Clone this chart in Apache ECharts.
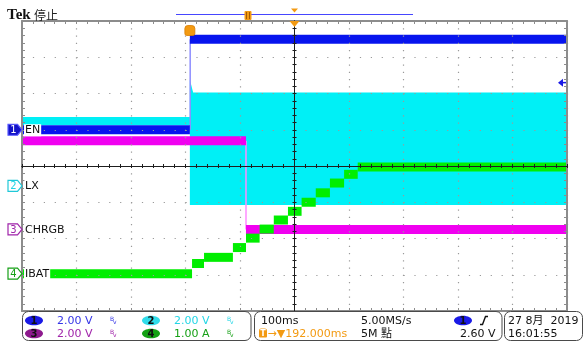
<!DOCTYPE html>
<html>
<head>
<meta charset="utf-8">
<script src="https://cdn.jsdelivr.net/npm/echarts@6/dist/echarts.min.js"></script>
<style>
  html, body { margin: 0; padding: 0; background: #fff; }
  #scope { width: 584px; height: 342px; }
</style>
</head>
<body>
<div id="scope"></div>
<script>
// ---- Acquisition settings -------------------------------------------------
// 100 ms/div over 10 divisions, trigger at t = 0, horizontal position 192 ms
const timeMin = -308;
const timeMax = 692;
const horizPosition = 192;      // ms
const triggerLevel = 2.60;      // V on CH1

// Per-channel vertical scale (units/div) and ground offset (divisions)
const chScale  = [2.0, 2.0, 2.0, 1.0];
const chOffset = [1.0, -0.55, -1.75, -2.97];
const chNames  = ['EN', 'LX', 'CHRGB', 'IBAT'];

// ---- Waveforms --------------------------------------------------------------
// CH1 EN: segment boundaries (ms) and level in each segment (V)
const enEdges  = [-308, 0, 692];
const enLevels = [0.0, 5.0];

// CH3 CHRGB: open-drain status pin released when charging regulates
const chrgbEdges  = [-308, 103, 692];
const chrgbLevels = [4.9, 0.0];

// CH4 IBAT: soft-start current staircase (A)
const ibatEdges  = [-308, 4, 26, 79, 103, 128, 154, 180, 205, 231, 257, 283, 308, 692];
const ibatLevels = [0.0, 0.28, 0.45, 0.72, 0.98, 1.23, 1.48, 1.72, 1.97, 2.23, 2.50, 2.74, 2.94];

// CH2 LX: switching node envelope (V), lower and upper bound over time
const lxTime = [-308, 0, 0, 1.5, 6, 692];
const lxHigh = [3.80, 3.80, 5.85, 5.70, 5.15, 5.15];
const lxLow  = [3.35, 3.35, -1.05, -1.05, -1.05, -1.05];

// ---- Drawing ---------------------------------------------------------------
const traceColor = ['#0714ee', '#00f0f6', '#f000f0', '#00ee00'];
const edgeColor  = ['#8e8eff', '#80f6ff', '#ff8cff', '#80ff80'];
const textColor  = ['#3434e6', '#22d6e6', '#a024aa', '#16a016'];
const badgeColor = ['#1a1ae6', '#30dcea', '#8e1a8e', '#14a014'];
const ORANGE = '#f39a12';
const FONT = 'DejaVu Sans';

const chart = echarts.init(document.getElementById('scope'), null, { renderer: 'canvas' });

const toDiv = (ch, v) => chOffset[ch] + v / chScale[ch];

function segmentData(ch, edges, levels) {
  return levels.map((v, i) => [edges[i], edges[i + 1], toDiv(ch, v)]);
}

// Noisy trace drawn as a solid band per constant segment
function bandSeries(name, ch, edges, levels, thick, z) {
  return {
    type: 'custom', name, xAxisIndex: 4, yAxisIndex: 0, z,
    silent: true, clip: true,
    data: segmentData(ch, edges, levels),
    encode: { x: [0, 1], y: 2 },
    renderItem: (params, api) => {
      const a = api.coord([api.value(0), api.value(2)]);
      const b = api.coord([api.value(1), api.value(2)]);
      return {
        type: 'rect',
        shape: { x: a[0], y: a[1] - thick / 2, width: b[0] - a[0], height: thick },
        style: { fill: traceColor[ch] }
      };
    }
  };
}

// Thin vertical transition between two levels
function edgeSeries(ch, t, v0, v1, z) {
  return {
    type: 'line', xAxisIndex: 4, yAxisIndex: 0, z, silent: true,
    symbol: 'none', animation: false,
    lineStyle: { color: edgeColor[ch], width: 1.5 },
    data: [[t, toDiv(ch, v0)], [t, toDiv(ch, v1)]]
  };
}

// Switching-node envelope filled between lower and upper bound
const lxSeries = {
  type: 'custom', name: 'LX', xAxisIndex: 4, yAxisIndex: 0, z: 2,
  silent: true, clip: true,
  data: lxTime.map((t, i) => [t, toDiv(1, lxLow[i]), toDiv(1, lxHigh[i])]),
  encode: { x: 0, y: [1, 2] },
  renderItem: (params, api) => {
    if (params.dataIndex !== 0) return;
    const upper = lxTime.map((t, i) => api.coord([t, toDiv(1, lxHigh[i])]));
    const lower = lxTime.map((t, i) => api.coord([t, toDiv(1, lxLow[i])])).reverse();
    return {
      type: 'polygon',
      shape: { points: upper.concat(lower) },
      style: { fill: traceColor[1] }
    };
  }
};

// Graticule axes: border with inner ticks, dotted divisions, centre crosshair
const GRAT = '#8c8c8c';
function gratAxis(extra) {
  return Object.assign({
    type: 'value', gridIndex: 0, z: 10, silent: true,
    axisLabel: { show: false },
    splitLine: { show: false },
    axisLine: { show: true, onZero: false, lineStyle: { color: GRAT, width: 2 } },
    axisTick: { show: true, inside: true, length: 3, lineStyle: { color: GRAT, width: 1 } },
    minorTick: { show: true, splitNumber: 5, length: 3, lineStyle: { color: GRAT, width: 1 } }
  }, extra);
}
function crossAxis(extra, inside) {
  return Object.assign({
    type: 'value', gridIndex: 0, z: 11, silent: true,
    axisLabel: { show: false },
    splitLine: { show: false },
    axisLine: { show: true, onZero: true, onZeroAxisIndex: 0, lineStyle: { color: '#1e1e1e', width: 1 } },
    axisTick: { show: true, inside, length: 2, lineStyle: { color: '#1e1e1e', width: 1 } },
    minorTick: { show: true, splitNumber: 5, length: 2, lineStyle: { color: '#1e1e1e', width: 1 } }
  }, extra);
}

const xDiv = { min: -5, max: 5, interval: 1 };
const yDiv = { min: -4, max: 4, interval: 1 };

const option = {
  animation: false,
  backgroundColor: '#ffffff',
  grid: { left: 22, top: 21, width: 545, height: 290, show: false },
  xAxis: [
    gratAxis(Object.assign({ position: 'bottom',
      splitLine: { show: true, lineStyle: { color: '#9a9a9a', width: 1.2, type: [1.2, 6.05] } } }, xDiv)),
    gratAxis(Object.assign({ position: 'top' }, xDiv)),
    crossAxis(Object.assign({ position: 'bottom' }, xDiv), false),
    crossAxis(Object.assign({ position: 'bottom' }, xDiv), true),
    { type: 'value', gridIndex: 0, min: timeMin, max: timeMax, show: false,
      axisLine: { onZero: false } }
  ],
  yAxis: [
    gratAxis(Object.assign({ position: 'left',
      splitLine: { show: true, lineStyle: { color: '#9a9a9a', width: 1.2, type: [1.2, 9.7] } } }, yDiv)),
    gratAxis(Object.assign({ position: 'right' }, yDiv)),
    crossAxis(Object.assign({ position: 'left' }, yDiv), false),
    crossAxis(Object.assign({ position: 'left' }, yDiv), true)
  ],
  series: [
    lxSeries,
    edgeSeries(0, 0.6, enLevels[0], enLevels[1], 3),
    bandSeries('EN', 0, enEdges, enLevels, 9, 4),
    edgeSeries(2, 103, chrgbLevels[0], chrgbLevels[1], 3),
    bandSeries('CHRGB', 2, chrgbEdges, chrgbLevels, 9, 5),
    bandSeries('IBAT', 3, ibatEdges, ibatLevels, 9, 6)
  ]
};
chart.setOption(option);

// ---- Screen annotations ------------------------------------------------------
const yPix = d => chart.convertToPixel({ yAxisIndex: 0 }, d);
const xPix = t => chart.convertToPixel({ xAxisIndex: 4 }, t);

function txt(text, x, y, color, size, extra) {
  return { type: 'text', z: 50, style: Object.assign({
    text, x, y, fill: color, font: (size || 11) + 'px "' + FONT + '"', verticalAlign: 'middle'
  }, extra || {}) };
}

const g = [];

// Title
g.push(txt('Tek', 7, 15, '#111', 15, { font: 'bold 15px "Liberation Serif"' }));
g.push(txt('停止', 34, 15, '#222', 12, { font: '12px "Noto Sans CJK TC"' }));

// Record view bar with trigger and position markers
g.push({ type: 'line', z: 50, shape: { x1: 176, y1: 14.5, x2: 413, y2: 14.5 }, style: { stroke: '#4646ff', lineWidth: 1 } });
g.push({ type: 'rect', z: 51, shape: { x: 244.5, y: 11, width: 7, height: 9, r: 1 }, style: { fill: ORANGE } });
g.push({ type: 'line', z: 52, shape: { x1: 246.5, y1: 12, x2: 246.5, y2: 19 }, style: { stroke: '#a35a00', lineWidth: 1 } });
g.push({ type: 'line', z: 52, shape: { x1: 249.5, y1: 12, x2: 249.5, y2: 19 }, style: { stroke: '#a35a00', lineWidth: 1 } });
const xc = xPix(horizPosition);
g.push({ type: 'polygon', z: 51, shape: { points: [[xc - 3.5, 8.5], [xc + 3.5, 8.5], [xc, 12.5]] }, style: { fill: ORANGE } });
g.push({ type: 'polygon', z: 51, shape: { points: [[xc - 5, 21], [xc + 5, 21], [xc, 27]] }, style: { fill: ORANGE } });

// Trigger point tab
const xt = xPix(0);
g.push({ type: 'rect', z: 51, shape: { x: xt - 5, y: 25.5, width: 10, height: 10, r: [3, 3, 2, 2] }, style: { fill: ORANGE, stroke: '#d97c00', lineWidth: 0.8 } });
g.push(txt('T', xt, 31, '#fff', 9, { font: 'bold 9px "' + FONT + '"', align: 'center' }));

// Channel ground markers and names
for (let ch = 0; ch < 4; ch++) {
  const y = yPix(chOffset[ch]);
  const filled = ch === 0;
  g.push({ type: 'polygon', z: 50, shape: {
    points: [[8, y - 5.5], [17.5, y - 5.5], [22, y], [17.5, y + 5.5], [8, y + 5.5]] },
    style: { fill: filled ? '#1212c8' : '#ffffff', stroke: filled ? '#5a5aff' : traceColor[ch] === '#00f0f6' ? '#20c8d8' : textColor[ch], lineWidth: 1.2 } });
  g.push(txt(String(ch + 1), 13.5, y + 0.5, filled ? '#ffffff' : textColor[ch], 10, { align: 'center' }));
  g.push(txt(chNames[ch], 24, y + 0.5, '#111', 11, { backgroundColor: '#ffffff', padding: [1, 1, 0, 1] }));
}

// CH1 trigger level arrow on the right edge
const yTrig = yPix(toDiv(0, triggerLevel));
g.push({ type: 'polygon', z: 50, shape: { points: [[558, yTrig], [563, yTrig - 4], [563, yTrig + 4]] }, style: { fill: '#1a1ae6' } });
g.push({ type: 'line', z: 50, shape: { x1: 562, y1: yTrig, x2: 566, y2: yTrig }, style: { stroke: '#1a1ae6', lineWidth: 1.5 } });

// Status panels
const panel = (x, w) => ({ type: 'rect', z: 40, shape: { x, y: 311.5, width: w, height: 29, r: 6 }, style: { fill: '#ffffff', stroke: '#4a4a4a', lineWidth: 1 } });
g.push(panel(22.5, 228.5), panel(254.5, 247.5), panel(504.5, 78));

const rowY = [320.5, 333.5];
const chanSlots = [[0, 34, 0], [1, 151, 0], [2, 34, 1], [3, 151, 1]];
const chanText = ['2.00 V', '2.00 V', '2.00 V', '1.00 A'];
chanSlots.forEach(([ch, x, r]) => {
  const y = rowY[r];
  g.push({ type: 'ellipse', z: 45, shape: { cx: x, cy: y, rx: 9, ry: 4.8 }, style: { fill: badgeColor[ch] } });
  g.push(txt(String(ch + 1), x, y + 0.5, '#101010', 10, { align: 'center', font: 'bold 10px "' + FONT + '"' }));
  g.push(txt(chanText[ch], x + 23, y + 0.5, textColor[ch], 11));
  g.push(txt('B', x + 76, y - 1.5, textColor[ch], 6));
  g.push(txt('v', x + 79, y + 2, textColor[ch], 6));
});

// Timebase and acquisition
g.push(txt('100ms', 261, rowY[0] + 0.5, '#111', 11));
g.push(txt('5.00MS/s', 361, rowY[0] + 0.5, '#111', 11));
g.push(txt('5M 點', 361, rowY[1] + 0.5, '#111', 11, { font: '11px "' + FONT + '", "Noto Sans CJK TC"' }));
g.push({ type: 'rect', z: 45, shape: { x: 259, y: 328.5, width: 8, height: 9, r: [2, 2, 1, 1] }, style: { fill: ORANGE } });
g.push(txt('T', 263, rowY[1] + 0.5, '#fff', 8, { align: 'center', font: 'bold 8px "' + FONT + '"' }));
g.push(txt('\u2192\u25BC192.000ms', 267.5, rowY[1] + 0.5, ORANGE, 11));

// Trigger readout
g.push({ type: 'ellipse', z: 45, shape: { cx: 463, cy: rowY[0], rx: 9, ry: 4.8 }, style: { fill: badgeColor[0] } });
g.push(txt('1', 463, rowY[0] + 0.5, '#101010', 10, { align: 'center', font: 'bold 10px "' + FONT + '"' }));
g.push({ type: 'polyline', z: 45, shape: { points: [[480, rowY[0] + 4], [482.5, rowY[0] + 4], [485.5, rowY[0] - 4], [488, rowY[0] - 4]] }, style: { stroke: '#111', lineWidth: 1.4, fill: null } });
g.push(txt('2.60 V', 460, rowY[1] + 0.5, '#111', 11));

// Date and time
g.push(txt('27 8月  2019', 508, rowY[0] + 0.5, '#111', 11, { font: '11px "' + FONT + '", "Noto Sans CJK TC"' }));
g.push(txt('16:01:55', 508, rowY[1] + 0.5, '#111', 11));

chart.setOption({ graphic: { elements: g } });
</script>
</body>
</html>
